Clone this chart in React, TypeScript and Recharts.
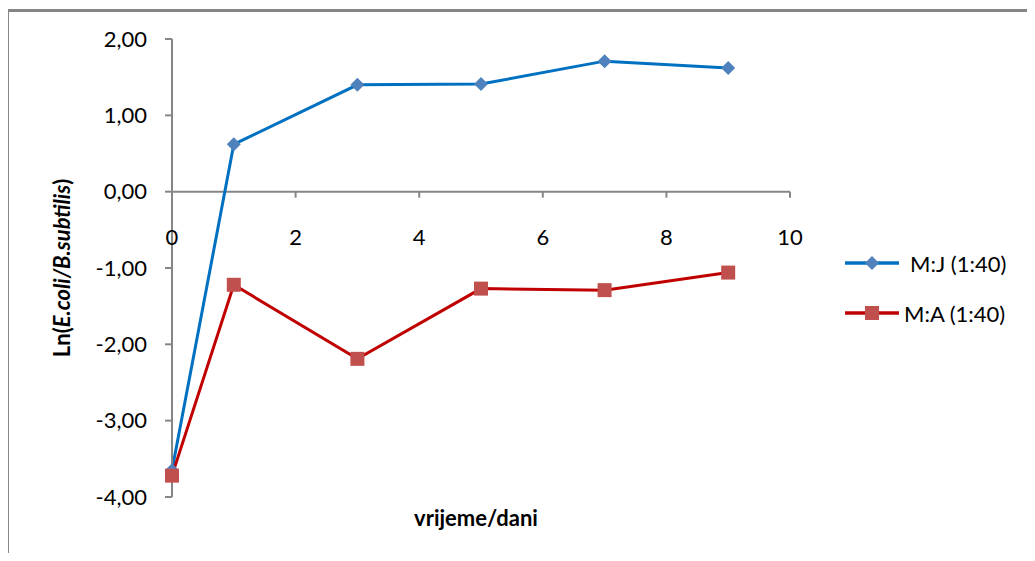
import { LineChart, Line, XAxis, YAxis, ReferenceLine, ReferenceDot, Legend } from "recharts";

const days = [0, 1, 3, 5, 7, 9];
const mjValues = [-3.65, 0.62, 1.4, 1.41, 1.71, 1.62];
const maValues = [-3.72, -1.22, -2.19, -1.27, -1.29, -1.06];
const xTicks = [0, 2, 4, 6, 8, 10];
const yTicks = [-4, -3, -2, -1, 0, 1, 2];
const seriesNames = ["M:J (1:40)", "M:A (1:40)"];

const data = days.map((d, i) => ({ day: d, mj: mjValues[i], ma: maValues[i] }));

const AXIS = "#868686";
const FONT = "Lato, 'Open Sans', sans-serif";

const Diamond = ({ cx, cy }: any) => (
  <path
    d={`M${cx},${cy - 7} L${cx + 7},${cy} L${cx},${cy + 7} L${cx - 7},${cy} Z`}
    fill="#4F81BD"
  />
);

const Square = ({ cx, cy }: any) => (
  <rect x={cx - 7} y={cy - 7} width={14} height={14} fill="#C0504D" />
);

const XTickMark = (label: number) => (props: any) => {
  const { cx, cy } = props;
  return (
    <g>
      <line x1={cx} y1={cy} x2={cx} y2={cy + 6} stroke={AXIS} strokeWidth={2} />
      <text x={cx} y={cy + 53} textAnchor="middle" fontSize={22} fill="#000" fontFamily={FONT}>
        {label}
      </text>
    </g>
  );
};

const YLabel = (props: any) => {
  const { viewBox } = props;
  const cx = viewBox.x + 31;
  const cy = viewBox.y + viewBox.height / 2;
  return (
    <text
      x={cx}
      y={cy}
      transform={`rotate(-90 ${cx} ${cy})`}
      textAnchor="middle"
      dominantBaseline="central"
      fontWeight="bold"
      fontSize={22}
      fontFamily={FONT}
      fill="#000"
    >
      <tspan>Ln(</tspan>
      <tspan fontStyle="italic">E.coli/B.subtilis</tspan>
      <tspan>)</tspan>
    </text>
  );
};

const LegendBox = () => (
  <div style={{ fontFamily: FONT, fontSize: 22, color: "#000" }}>
    {seriesNames.map((name, i) => (
      <div key={name} style={{ display: "flex", alignItems: "center", height: 50 }}>
        <svg width={56} height={20} style={{ marginRight: i === 0 ? 10 : 4 }}>
          <line x1={1} y1={10} x2={55} y2={10} stroke={i === 0 ? "#0070C0" : "#C00000"} strokeWidth={3.5} />
          {i === 0 ? <Diamond cx={28} cy={10} /> : <Square cx={28} cy={10} />}
        </svg>
        <span>{name}</span>
      </div>
    ))}
  </div>
);

export default function App() {
  return (
    <div style={{ position: "relative", width: 1035, height: 561, margin: -8, background: "#fff", overflow: "hidden" }}>
      <div
        style={{
          position: "absolute",
          left: 6,
          top: 9,
          width: 1060,
          height: 600,
          borderTop: `3px solid ${AXIS}`,
          borderLeft: `3px solid ${AXIS}`,
        }}
      />
      <div style={{ position: "absolute", left: 0, top: 0 }}>
        <LineChart width={1035} height={561} data={data} margin={{ top: 39, right: 245, bottom: 24, left: 30 }}>
          <XAxis
            type="number"
            dataKey="day"
            domain={[0, 10]}
            ticks={xTicks}
            axisLine={false}
            tickLine={false}
            tick={false}
            height={40}
            label={{
              value: "vrijeme/dani",
              position: "insideBottom",
              offset: 11,
              dx: -5,
              fontWeight: "bold",
              fontSize: 22,
              fontFamily: FONT,
              fill: "#000",
            }}
          />
          <YAxis
            type="number"
            domain={[-4, 2]}
            ticks={yTicks}
            width={142}
            tickSize={7}
            tickMargin={18}
            axisLine={{ stroke: AXIS, strokeWidth: 2 }}
            tickLine={{ stroke: AXIS, strokeWidth: 2 }}
            tick={{ fill: "#000", fontSize: 22, fontFamily: FONT }}
            tickFormatter={(v: number) => v.toFixed(2).replace(".", ",")}
            label={{ content: YLabel }}
          />
          <ReferenceLine y={0} stroke={AXIS} strokeWidth={2} />
          {xTicks.map((t) => (
            <ReferenceDot key={t} x={t} y={0} r={0} shape={XTickMark(t)} />
          ))}
          <Legend
            layout="vertical"
            align="center"
            verticalAlign="middle"
            wrapperStyle={{ left: 844, top: 238, width: 191 }}
            content={() => <LegendBox />}
          />
          <Line
            type="linear"
            dataKey="mj"
            stroke="#0070C0"
            strokeWidth={3}
            dot={<Diamond />}
            activeDot={false}
            isAnimationActive={false}
          />
          <Line
            type="linear"
            dataKey="ma"
            stroke="#C00000"
            strokeWidth={3}
            dot={<Square />}
            activeDot={false}
            isAnimationActive={false}
          />
        </LineChart>
      </div>
    </div>
  );
}
